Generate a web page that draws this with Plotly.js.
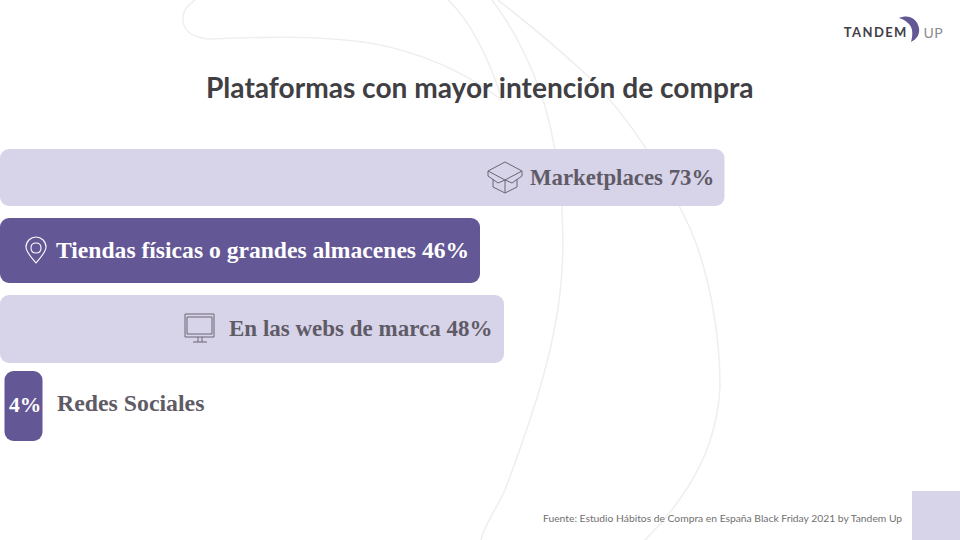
<!DOCTYPE html>
<html><head><meta charset="utf-8">
<script src="https://cdn.plot.ly/plotly-3.0.1.min.js"></script>
<style>html,body{margin:0;padding:0;background:#fff}#c{width:960px;height:540px}</style>
</head><body><div id="c"></div>
<script>
const categories = ['Marketplaces','Tiendas físicas o grandes almacenes','En las webs de marca','Redes Sociales'];
const percents = [73,46,48,4];
const barStart = [0.01,0.01,0.01,4.5];
const barEnd = [724.5,480,504,42.5];
const barCentre = [177.5,250.5,329,406];
const barThickness = [57,65,68,70];
const barColours = ['#d7d3e9','#635795','#d7d3e9','#635795'];
const labelColours = ['#5f5b66','#ffffff','#5f5b66','#ffffff'];

const bars = {
  type:'bar', orientation:'h',
  y:barCentre,
  x:barEnd.map((e,i)=>e-barStart[i]),
  base:barStart,
  width:barThickness,
  marker:{color:barColours,line:{width:0}},
  hoverinfo:'skip', showlegend:false
};

const serif = 'Liberation Serif, serif';
function ann(text,x,y,size,color,anchor,family){
  return {xref:'x',yref:'y',x,y,text,showarrow:false,xanchor:anchor,yanchor:'middle',
    font:{family,size,color}};
}
const annotations = [
  ann('<b>Plataformas con mayor intención de compra</b>',480,87,28.1,'#3f3f44','center','Lato'),
  ann(`<b>${categories[0]} ${percents[0]}%</b>`,716,177,22.8,labelColours[0],'right',serif),
  ann(`<b>${categories[1]} ${percents[1]}%</b>`,471,250,23.6,labelColours[1],'right',serif),
  ann(`<b>${categories[2]} ${percents[2]}%</b>`,494,328,23,labelColours[2],'right',serif),
  ann(`<b>${percents[3]}%</b>`,24.5,405,21.5,labelColours[3],'center',serif),
  ann(`<b>${categories[3]}</b>`,55,403,23.8,labelColours[0],'left',serif),
  ann('Fuente: Estudio Hábitos de Compra en España Black Friday 2021 by Tandem Up',904,518,10.3,'#707070','right','Lato'),
  ann('<b>TANDEM</b>',846,32,13,'#3f4048','left','Lato'),
  ann('UP',922,32,14,'#8a8a90','left','Lato')
];

const deco = {type:'path',xref:'x',yref:'y',layer:'below',line:{color:'#efefef',width:1.6}};
const icon = (path,color)=>({type:'path',xref:'x',yref:'y',path,layer:'above',line:{color,width:1}});
const shapes = [
  Object.assign({},deco,{path:'M195,0 C186,6 182,14 183,21 C184,32 195,39 212,39 C260,37 320,35 370,43 C420,52 465,72 502,100'}),
  Object.assign({},deco,{path:'M448,0 C470,20 490,60 502,100'}),
  Object.assign({},deco,{path:'M492,0 C515,30 538,75 550,125 C560,170 565,220 562,270 C558,340 535,410 505,490 C497,508 484,525 481,540'}),
  Object.assign({},deco,{path:'M498,0 C530,25 560,50 590,78 C630,118 665,175 690,228 C708,270 720,330 720,385 C718,440 695,490 645,540'}),
  {type:'rect',xref:'x',yref:'y',x0:912,x1:960,y0:491,y1:540,fillcolor:'#d7d3e9',line:{width:0},layer:'below'},
  {type:'path',xref:'x',yref:'y',layer:'above',fillcolor:'#635795',line:{width:0},
   path:'M899,18 C908,14 917,18 919,28 C920,34 917,39 911,42 C913,35 913,28 909,24 C906,21 903,19 899,18 Z'},
  // box icon
  icon('M505,162 L522,171 L505,180 L488,171 Z M488,171 L488,176 L498,183 L505,180 L512,183 L522,176 L522,171 M493,179 L493,187 L505,193 L517,187 L517,179 M505,180 L505,193','#6a6672'),
  // pin icon
  {type:'path',xref:'x',yref:'y',layer:'above',line:{color:'#ffffff',width:1.1},
   path:'M36,263 C31,257 26,252 26,247 C26,241 31,237 36,237 C41,237 46,241 46,247 C46,252 41,257 36,263 Z M36,243 C33,243 31,245 31,248 C31,251 33,253 36,253 C39,253 41,251 41,248 C41,245 39,243 36,243 Z'},
  // monitor icon
  icon('M185,314 L214,314 L214,337 L185,337 Z M187,317 L212,317 L212,334 L187,334 Z M198,337 L198,342 M202,337 L202,342 M193,342 L207,342','#6a6672')
];

const layout = {
  width:960,height:540,margin:{l:0,r:0,t:0,b:0},
  paper_bgcolor:'#fff',plot_bgcolor:'rgba(0,0,0,0)',
  barmode:'overlay',barcornerradius:9,
  xaxis:{range:[0,960],visible:false,fixedrange:true},
  yaxis:{range:[540,0],visible:false,fixedrange:true},
  annotations,shapes,showlegend:false
};
Plotly.newPlot('c',[bars],layout,{displayModeBar:false,staticPlot:true}).then(()=>{
  document.querySelectorAll('.annotation-text').forEach(t=>{
    if(t.textContent==='TANDEM'){t.style.letterSpacing='1.4px';}
    if(t.textContent==='UP'){t.style.letterSpacing='0.6px';}
  });
});
</script></body></html>
